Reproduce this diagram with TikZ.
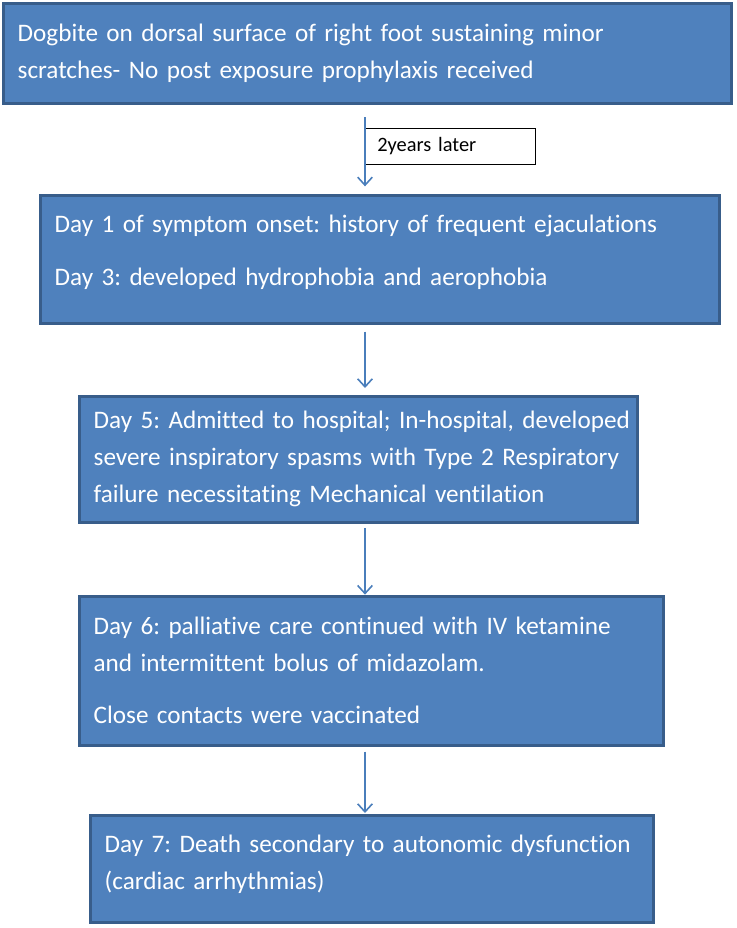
\documentclass[tikz,border=0pt]{standalone}
\usepackage{fontspec}
\setmainfont{Carlito}[Ligatures=NoCommon]
\frenchspacing
\usetikzlibrary{positioning,arrows.meta}
\definecolor{boxfill}{HTML}{4F81BD}
\definecolor{boxline}{HTML}{385D8A}
\definecolor{flowline}{HTML}{4A7EBB}
\tikzset{
    % Stage box
    node_stage/.style = {draw=boxline, fill=boxfill, line width=2.25pt, text=white, anchor=north west, align=left,
        inner xsep=11pt, inner ysep=0pt, outer sep=0pt, font=\fontsize{18.9}{27.5}\selectfont},
    % Time label
    node_gap/.style = {draw=black, fill=white, line width=0.6pt, anchor=north west, align=left,
        inner xsep=10pt, inner ysep=0pt, outer sep=0pt, font=\fontsize{15.3}{17}\selectfont},
    % Connector
    flow/.style = {draw=flowline, line width=1.2pt, -{Straight Barb[length=6pt,width=11pt]}}
}

\begin{document}
\begin{tikzpicture}[x=0.75pt, y=-0.75pt]
    \useasboundingbox (0,0) rectangle (736,928);

    \node[node_stage, minimum width=546pt, minimum height=75pt, text width=524pt] (bite) at (3,3)
        {Dogbite on dorsal surface of right foot sustaining minor\\scratches- No post exposure prophylaxis received};
    \node[node_stage, minimum width=509.25pt, minimum height=96pt, text width=487.25pt] (onset) at (40,195)
        {Day 1 of symptom onset: history of frequent ejaculations\\[12pt]Day 3: developed hydrophobia and aerophobia\\[-14pt]\mbox{}};
    \node[node_stage, minimum width=418.5pt, minimum height=94.5pt, text width=396.5pt] (admit) at (79,396)
        {\mbox{Day 5: Admitted to hospital; In-hospital, developed}\\severe inspiratory spasms with Type 2 Respiratory\\failure necessitating Mechanical ventilation};
    \node[node_stage, minimum width=438pt, minimum height=111.75pt, text width=416pt] (care) at (79,596)
        {Day 6: palliative care continued with IV ketamine\\and intermittent bolus of midazolam.\\[12pt]Close contacts were vaccinated};
    \node[node_stage, minimum width=422.25pt, minimum height=80.25pt, text width=400.25pt] (death) at (90,815)
        {Day 7: Death secondary to autonomic dysfunction\\(cardiac arrhythmias)\\[-18pt]\mbox{}};

    \node[node_gap, minimum width=128.25pt, minimum height=27pt, text width=108.25pt] (later) at (364,128) {2years later};
    \coordinate (axis) at (365,0);

    \draw[flow, shorten <=10.5pt, shorten >=6.5pt] (bite.south -| axis) -- (onset.north -| axis);
    \draw[flow, shorten <=6.5pt, shorten >=6pt] (onset.south -| axis) -- (admit.north -| axis);
    \draw[flow, shorten <=4.5pt, shorten >=1pt] (admit.south -| axis) -- (care.north -| axis);
    \draw[flow, shorten <=5pt, shorten >=1.5pt] (care.south -| axis) -- (death.north -| axis);
\end{tikzpicture}
\end{document}
